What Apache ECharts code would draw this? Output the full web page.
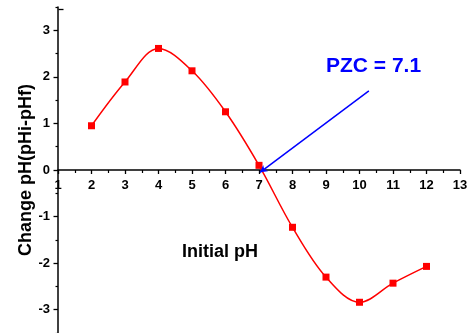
<!DOCTYPE html>
<html>
<head>
<meta charset="utf-8">
<script src="https://cdn.jsdelivr.net/npm/echarts@6/dist/echarts.min.js"></script>
<style>
  html, body { margin: 0; padding: 0; background: #fff; }
  #chart { width: 471px; height: 333px; }
</style>
</head>
<body>
<div id="chart"></div>
<script>
// Initial pH vs. change in pH (pHi - pHf)
const initialPH = [2, 3, 4, 5, 6, 7, 8, 9, 10, 11, 12];
const deltaPH = [0.95, 1.89, 2.61, 2.13, 1.25, 0.1, -1.23, -2.3, -2.84, -2.43, -2.07];

// Pointer line towards the point of zero charge
const pzcLineStart = [10.28, 1.7];
const pzcLineEnd = [7.03, -0.05];
const pzcLabel = 'PZC = 7.1';

const xMin = 1, xMax = 13;
const yMin = -3.5, yMax = 3.5;
const yMajorTicks = [-3, -2, -1, 0, 1, 2, 3];
const yMinorTicks = [-3.5, -2.5, -1.5, -0.5, 0.5, 1.5, 2.5, 3.5];

const FONT = '"Liberation Sans", Arial, sans-serif';
const GRID_TOP = 7, GRID_BOTTOM = 0, HEIGHT = 333;
// The x axis crosses the y axis at y = 0, which sits halfway down the plot
const zeroOffset = -((HEIGHT - GRID_TOP - GRID_BOTTOM) * (0 - yMin) / (yMax - yMin));

const chart = echarts.init(document.getElementById('chart'), null, { renderer: 'canvas' });

chart.setOption({
  animation: false,
  grid: { left: 58, right: 11, top: GRID_TOP, bottom: GRID_BOTTOM, containLabel: false, outerBoundsMode: 'none' },
  xAxis: {
    type: 'value',
    position: 'bottom',
    offset: zeroOffset,
    min: xMin, max: xMax, interval: 1,
    axisLine: { onZero: false, lineStyle: { color: '#000', width: 1.5 } },
    axisTick: { show: true, length: 4, lineStyle: { color: '#000', width: 1.3 } },
    minorTick: { show: true, splitNumber: 2, length: 3, lineStyle: { color: '#000', width: 1.2 } },
    axisLabel: {
      show: true, showMinLabel: true, showMaxLabel: true, hideOverlap: false,
      color: '#000', fontFamily: FONT, fontWeight: 'bold', fontSize: 13, margin: 9
    },
    splitLine: { show: false }
  },
  yAxis: [
    {
      type: 'value',
      min: yMin, max: yMax,
      axisLine: { show: true, onZero: false, lineStyle: { color: '#000', width: 1.5 } },
      axisTick: { show: true, customValues: yMajorTicks, length: 4.5, lineStyle: { color: '#000', width: 1.3 } },
      axisLabel: {
        customValues: yMajorTicks,
        color: '#000', fontFamily: FONT, fontWeight: 'bold', fontSize: 13, margin: 8
      },
      splitLine: { show: false },
      name: 'Change pH(pHi-pHf)',
      nameLocation: 'middle',
      nameGap: 23,
      nameMoveOverlap: false,
      nameTextStyle: { color: '#000', fontFamily: FONT, fontWeight: 'bold', fontSize: 18 }
    },
    {
      type: 'value',
      min: yMin, max: yMax,
      position: 'left',
      axisLine: { show: false, onZero: false },
      axisTick: { show: true, customValues: yMinorTicks, length: 2.5, lineStyle: { color: '#000', width: 1.2 } },
      axisLabel: { show: false },
      splitLine: { show: false }
    }
  ],
  graphic: [
    {
      type: 'text',
      left: 182, top: 243,
      style: { text: 'Initial pH', fill: '#000', font: 'bold 18px ' + FONT }
    },
    {
      type: 'text',
      left: 326, top: 56,
      style: { text: pzcLabel, fill: '#0000ff', font: 'bold 21px ' + FONT }
    },
    {
      type: 'line',
      left: 56, top: 7,
      shape: { x1: 0, y1: 1, x2: 5, y2: 1 },
      style: { stroke: '#000', lineWidth: 1.3 }
    }
  ],
  series: [
    {
      type: 'line',
      data: initialPH.map((x, i) => [x, deltaPH[i]]),
      smooth: 0.35,
      symbol: 'rect',
      symbolSize: 7,
      itemStyle: { color: '#ff0000' },
      lineStyle: { color: '#ff0000', width: 1.5 },
      z: 3
    },
    {
      type: 'line',
      data: [],
      markLine: {
        silent: true,
        symbol: ['none', 'arrow'],
        symbolSize: [6, 7],
        label: { show: false },
        lineStyle: { color: '#0000ff', width: 1.5, type: 'solid' },
        data: [[{ coord: pzcLineStart }, { coord: pzcLineEnd }]]
      }
    }
  ]
});
</script>
</body>
</html>
